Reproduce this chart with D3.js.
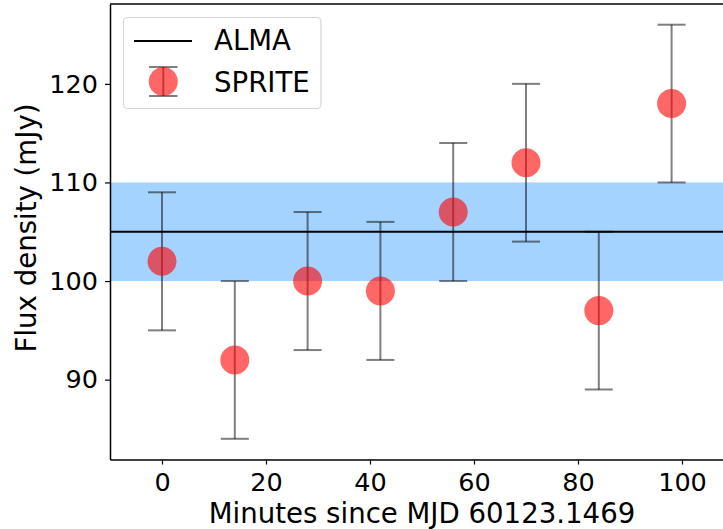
<!DOCTYPE html>
<html>
<head>
<meta charset="utf-8">
<script src="https://cdn.jsdelivr.net/npm/d3@7"></script>
<style>
  body { margin: 0; background: #fff; }
  svg text { font-family: "DejaVu Sans", sans-serif; fill: #000; }
</style>
</head>
<body>
<div id="chart"></div>
<script>
// SPRITE measurements (minutes since MJD 60123.1469)
var minutes = [0, 14, 28, 42, 56, 70, 84, 98];
var flux    = [102, 92, 100, 99, 107, 112, 97, 118];
var fluxLo  = [95, 84, 93, 92, 100, 104, 89, 110];
var fluxHi  = [109, 100, 107, 106, 114, 120, 105, 126];

// ALMA reference flux and its uncertainty band
var almaFlux = 105;
var almaBand = [100, 110];

var xTicks = [0, 20, 40, 60, 80, 100];
var yTicks = [90, 100, 110, 120];

var W = 723, H = 529;
var margin = {top: 4, left: 110, bottom: 459.5, right: 734};

var svg = d3.select("#chart").append("svg")
    .attr("width", W)
    .attr("height", H);

var x = d3.scaleLinear().domain([-10, 110]).range([margin.left, margin.right]);
var y = d3.scaleLinear().domain([81.9, 128.1]).range([margin.bottom, margin.top]);

var plot = svg.append("g");

// ALMA band + line
plot.append("rect")
    .attr("x", x(-10))
    .attr("width", x(110) - x(-10))
    .attr("y", y(almaBand[1]))
    .attr("height", y(almaBand[0]) - y(almaBand[1]))
    .attr("fill", "#1e90ff")
    .attr("fill-opacity", 0.4);

plot.append("line")
    .attr("x1", x(-10)).attr("x2", x(110))
    .attr("y1", y(almaFlux)).attr("y2", y(almaFlux))
    .attr("stroke", "#000")
    .attr("stroke-width", 2);

var data = minutes.map(function(m, i) {
    return {t: m, f: flux[i], lo: fluxLo[i], hi: fluxHi[i]};
});

var capHalf = 14;

// error bars
var eb = plot.selectAll(".eb").data(data).enter().append("g")
    .attr("class", "eb")
    .attr("stroke", "#000")
    .attr("stroke-opacity", 0.5)
    .attr("stroke-width", 2);

eb.append("line")
    .attr("x1", function(d) { return x(d.t); })
    .attr("x2", function(d) { return x(d.t); })
    .attr("y1", function(d) { return y(d.lo); })
    .attr("y2", function(d) { return y(d.hi); });
eb.append("line")
    .attr("x1", function(d) { return x(d.t) - capHalf; })
    .attr("x2", function(d) { return x(d.t) + capHalf; })
    .attr("y1", function(d) { return y(d.lo); })
    .attr("y2", function(d) { return y(d.lo); });
eb.append("line")
    .attr("x1", function(d) { return x(d.t) - capHalf; })
    .attr("x2", function(d) { return x(d.t) + capHalf; })
    .attr("y1", function(d) { return y(d.hi); })
    .attr("y2", function(d) { return y(d.hi); });

// points
plot.selectAll(".pt").data(data).enter().append("circle")
    .attr("class", "pt")
    .attr("cx", function(d) { return x(d.t); })
    .attr("cy", function(d) { return y(d.f); })
    .attr("r", 14.5)
    .attr("fill", "#ff0000")
    .attr("fill-opacity", 0.6);

// axes
var xAxis = svg.append("g")
    .attr("transform", "translate(0," + margin.bottom + ")")
    .call(d3.axisBottom(x).tickValues(xTicks).tickSize(5).tickSizeOuter(0).tickPadding(8));
var yAxis = svg.append("g")
    .attr("transform", "translate(" + margin.left + ",0)")
    .call(d3.axisLeft(y).tickValues(yTicks).tickSize(5).tickSizeOuter(0).tickPadding(7));

[xAxis, yAxis].forEach(function(a) {
    a.select(".domain").attr("stroke", "#000").attr("stroke-width", 1.5);
    a.selectAll(".tick line").attr("stroke", "#000").attr("stroke-width", 1.2);
    a.selectAll(".tick text")
        .style("font-family", "DejaVu Sans")
        .style("font-size", "25.5px");
});

// top spine
svg.append("line")
    .attr("x1", margin.left).attr("x2", margin.right)
    .attr("y1", margin.top).attr("y2", margin.top)
    .attr("stroke", "#000").attr("stroke-width", 1.5);

// axis labels
svg.append("text")
    .attr("x", (margin.left + margin.right) / 2)
    .attr("y", 522.5)
    .attr("text-anchor", "middle")
    .style("font-size", "27.6px")
    .text("Minutes since MJD 60123.1469");

svg.append("text")
    .attr("transform", "translate(36," + 228 + ") rotate(-90)")
    .attr("text-anchor", "middle")
    .style("font-size", "27.6px")
    .text("Flux density (mJy)");

// legend
var lg = svg.append("g");
lg.append("rect")
    .attr("x", 123.5).attr("y", 17.5)
    .attr("width", 197.5).attr("height", 91)
    .attr("rx", 4)
    .attr("fill", "#fff").attr("fill-opacity", 0.8)
    .attr("stroke", "#d6d6d6").attr("stroke-width", 1.2);

lg.append("line")
    .attr("x1", 134).attr("x2", 192)
    .attr("y1", 41).attr("y2", 41)
    .attr("stroke", "#000").attr("stroke-width", 2);
lg.append("text").attr("x", 214).attr("y", 50)
    .style("font-size", "27.6px").text("ALMA");

var lgE = lg.append("g")
    .attr("stroke", "#000").attr("stroke-opacity", 0.5).attr("stroke-width", 2);
lgE.append("line").attr("x1", 163.3).attr("x2", 163.3).attr("y1", 67).attr("y2", 96);
lgE.append("line").attr("x1", 149).attr("x2", 177.5).attr("y1", 67).attr("y2", 67);
lgE.append("line").attr("x1", 149).attr("x2", 177.5).attr("y1", 96).attr("y2", 96);
lg.append("circle").attr("cx", 163.3).attr("cy", 81.5).attr("r", 14.5)
    .attr("fill", "#ff0000").attr("fill-opacity", 0.6);
lg.append("text").attr("x", 214).attr("y", 91.5)
    .style("font-size", "27.6px").text("SPRITE");
</script>
</body>
</html>
